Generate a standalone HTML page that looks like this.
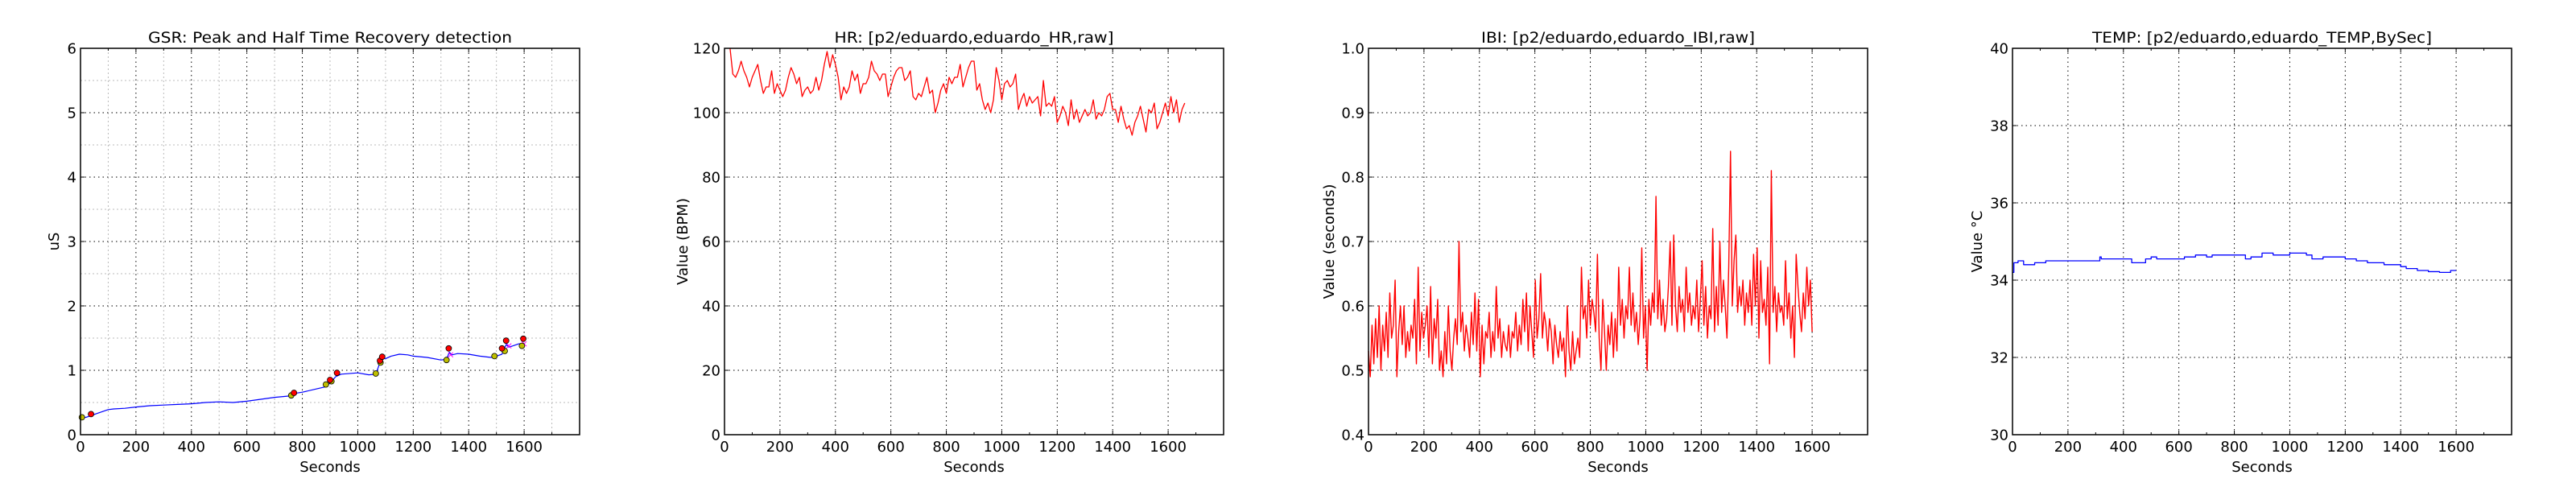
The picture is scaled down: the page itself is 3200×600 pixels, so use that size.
<!DOCTYPE html>
<html><head><meta charset="utf-8">
<style>
html,body{margin:0;padding:0;background:#fff;}
svg{display:block;font-family:"DejaVu Sans","Liberation Sans",sans-serif;}
</style></head>
<body>
<svg id="fig" width="3200" height="600" viewBox="0 0 3200 600" xmlns="http://www.w3.org/2000/svg"></svg>
<script>
// ---- GSR data ----
const gsrX = [0,20,40,60,80,100,120,160,200,250,300,350,400,450,500,550,600,650,700,750,770,800,850,880,900,920,940,1000,1040,1065,1080,1090,1100,1120,1150,1180,1200,1250,1300,1320,1330,1340,1360,1400,1440,1480,1500,1520,1535,1545,1560,1580,1600];
const gsrY = [0.26,0.27,0.30,0.33,0.36,0.39,0.40,0.41,0.43,0.45,0.46,0.47,0.48,0.50,0.51,0.50,0.52,0.55,0.58,0.60,0.64,0.66,0.71,0.74,0.80,0.90,0.94,0.96,0.93,0.94,1.12,1.20,1.18,1.22,1.25,1.24,1.22,1.20,1.16,1.17,1.28,1.24,1.26,1.25,1.22,1.20,1.22,1.25,1.40,1.36,1.38,1.41,1.42];
const peakX = [38,770,900,925,1080,1088,1328,1520,1535,1597];
const peakY = [0.32,0.65,0.85,0.96,1.15,1.21,1.34,1.34,1.46,1.49];
const onsetX = [5,760,885,905,1065,1082,1320,1493,1530,1592];
const onsetY = [0.27,0.61,0.78,0.83,0.95,1.12,1.16,1.22,1.30,1.38];
const hrecX = [1335,1545,1600];
const hrecY = [1.24,1.38,1.41];
// ---- HR data (every 10 s from 20 s) ----
const hrStart = 20, hrStep = 10;
const hrY = [120,112,111,113,116,113,111,108,111,113,115,110,106,108,108,113,106,109,107,105,107,111,114,112,109,111,105,107,108,106,107,111,107,110,115,119,114,118,115,111,104,108,106,108,113,110,112,106,109,109,111,116,113,112,110,112,112,105,108,111,113,114,114,110,111,113,105,104,106,105,108,111,106,107,100,103,107,109,106,111,109,111,111,115,108,111,114,116,116,107,109,104,101,103,100,104,114,110,104,109,110,108,109,112,101,104,106,102,105,103,104,105,99,110,102,103,102,105,97,99,102,100,96,104,98,101,97,99,101,99,100,104,98,100,99,101,105,106,101,101,97,102,98,95,96,93,97,99,102,98,94,101,100,103,95,97,100,103,99,105,100,104,97,101,103];
// ---- IBI data (every 6.4 s from 0 s) ----
const ibiStart = 0, ibiStep = 6.4;
const ibiY = [0.53,0.49,0.57,0.51,0.58,0.52,0.60,0.50,0.57,0.53,0.59,0.52,0.62,0.55,0.57,0.64,0.49,0.56,0.60,0.54,0.60,0.52,0.56,0.53,0.57,0.55,0.61,0.51,0.66,0.53,0.59,0.55,0.57,0.60,0.52,0.63,0.51,0.58,0.55,0.61,0.50,0.53,0.49,0.56,0.51,0.60,0.53,0.50,0.55,0.58,0.54,0.70,0.56,0.59,0.53,0.57,0.55,0.52,0.59,0.54,0.62,0.53,0.61,0.49,0.57,0.51,0.56,0.55,0.59,0.52,0.56,0.53,0.63,0.55,0.58,0.52,0.56,0.54,0.53,0.57,0.52,0.56,0.55,0.59,0.53,0.57,0.54,0.61,0.56,0.62,0.53,0.60,0.56,0.52,0.64,0.55,0.58,0.65,0.55,0.59,0.57,0.53,0.58,0.56,0.51,0.57,0.54,0.52,0.56,0.53,0.55,0.49,0.60,0.53,0.50,0.56,0.51,0.53,0.55,0.52,0.66,0.58,0.60,0.55,0.64,0.57,0.61,0.59,0.56,0.68,0.55,0.50,0.61,0.56,0.50,0.57,0.54,0.59,0.52,0.58,0.53,0.66,0.57,0.61,0.55,0.60,0.58,0.66,0.57,0.62,0.56,0.59,0.54,0.58,0.69,0.55,0.60,0.50,0.61,0.57,0.62,0.59,0.77,0.58,0.64,0.57,0.61,0.56,0.58,0.63,0.70,0.57,0.71,0.60,0.56,0.63,0.59,0.61,0.56,0.66,0.59,0.62,0.57,0.60,0.58,0.64,0.56,0.61,0.67,0.57,0.63,0.55,0.60,0.58,0.72,0.56,0.63,0.57,0.70,0.59,0.64,0.60,0.55,0.66,0.84,0.60,0.67,0.71,0.59,0.63,0.60,0.64,0.57,0.62,0.59,0.64,0.57,0.68,0.60,0.69,0.55,0.67,0.59,0.61,0.57,0.66,0.51,0.81,0.59,0.63,0.56,0.62,0.59,0.60,0.57,0.67,0.58,0.62,0.55,0.60,0.52,0.68,0.63,0.59,0.56,0.62,0.58,0.66,0.60,0.64,0.56];
// ---- TEMP data ----
const tempX = [0,5,20,40,80,120,200,300,315,320,400,430,480,500,520,600,620,660,700,720,800,840,860,900,940,1000,1060,1080,1120,1180,1200,1240,1280,1320,1340,1400,1420,1460,1500,1540,1580,1600];
const tempY = [34.2,34.45,34.5,34.4,34.45,34.5,34.5,34.5,34.6,34.55,34.55,34.45,34.55,34.6,34.55,34.55,34.6,34.65,34.6,34.65,34.65,34.55,34.6,34.7,34.65,34.7,34.65,34.55,34.6,34.6,34.55,34.5,34.45,34.45,34.4,34.35,34.3,34.25,34.22,34.2,34.25,34.25];
const xTicks = [0,200,400,600,800,1000,1200,1400,1600];
const gsrTicks = [0,1,2,3,4,5,6];
const hrTicks = [0,20,40,60,80,100,120];
const ibiTicks = [0.4,0.5,0.6,0.7,0.8,0.9,1.0];
const ibiTickLabels = ["0.4","0.5","0.6","0.7","0.8","0.9","1.0"];
const tempTicks = [30,32,34,36,38,40];

const NS = "http://www.w3.org/2000/svg";
const fig = document.getElementById('fig');
function el(tag, attrs, parent){ const e=document.createElementNS(NS,tag); for(const k in attrs) e.setAttribute(k,attrs[k]); (parent||fig).appendChild(e); return e; }

function makeAxes(ox, cfg){
  const L=ox+100, R=ox+720, T=60, B=540;
  const g = el('g',{});
  
  
  const sx = v => L + (v-0)/(1800)*(R-L);
  const sy = v => B - (v-cfg.ymin)/(cfg.ymax-cfg.ymin)*(B-T);
  if(cfg.minor){
    for(let v=100; v<1800; v+=200){ const l=el('line',{x1:sx(v),x2:sx(v),y1:T,y2:B,stroke:'#bbb','stroke-width':1,'stroke-dasharray':'2,3'},g);   }
    for(const v of cfg.minorY){ const l=el('line',{x1:L,x2:R,y1:sy(v),y2:sy(v),stroke:'#bbb','stroke-width':1,'stroke-dasharray':'2,3'},g);   }
  }
  xTicks.forEach(v=>{
    const l=el('line',{x1:sx(v),x2:sx(v),y1:T,y2:B,stroke:'#000','stroke-width':1,'stroke-dasharray':'1.5,4'},g);
     
    el('line',{x1:sx(v),x2:sx(v),y1:B,y2:B-5,stroke:'#000'},g);
    el('line',{x1:sx(v),x2:sx(v),y1:T,y2:T+5,stroke:'#000'},g);
    const t=el('text',{x:sx(v),y:561,'text-anchor':'middle','font-size':18},g); t.textContent=String(v);
     
  });
  for(let v=100; v<1800; v+=200){ el('line',{x1:sx(v),x2:sx(v),y1:B,y2:B-3,stroke:'#000'},g); el('line',{x1:sx(v),x2:sx(v),y1:T,y2:T+3,stroke:'#000'},g); }
  cfg.yticks.forEach((v,i)=>{
    const l=el('line',{x1:L,x2:R,y1:sy(v),y2:sy(v),stroke:'#000','stroke-width':1,'stroke-dasharray':'1.5,4'},g);
     
    el('line',{x1:L,x2:L+5,y1:sy(v),y2:sy(v),stroke:'#000'},g);
    el('line',{x1:R,x2:R-5,y1:sy(v),y2:sy(v),stroke:'#000'},g);
    const t=el('text',{x:L-5,y:sy(v)+6.5,'text-anchor':'end','font-size':18},g);
    t.textContent = cfg.ylabels ? cfg.ylabels[i] : String(v);
     
  });
  cfg.draw(g, sx, sy);
  const fr=el('rect',{x:L,y:T,width:R-L,height:B-T,fill:'none',stroke:'#000','stroke-width':1.5},g);
   
  const tt=el('text',{x:(L+R)/2,y:53,'text-anchor':'middle','font-size':19,textLength:cfg.tlen,lengthAdjust:'spacingAndGlyphs'},g); tt.textContent=cfg.title;
   
  const xl=el('text',{x:(L+R)/2,y:586,'text-anchor':'middle','font-size':18},g); xl.textContent='Seconds';
   
  const yl=el('text',{x:0,y:0,'text-anchor':'middle','font-size':18,transform:`translate(${ox+cfg.ylx},300) rotate(-90)`},g); yl.textContent=cfg.ylabel;
   
}
function poly(g, xs, ys, sx, sy, color, name, w, step){
  let pts=[];
  for(let i=0;i<xs.length;i++){
    if(step && i>0) pts.push(sx(xs[i])+','+sy(ys[i-1]));
    pts.push(sx(xs[i])+','+sy(ys[i]));
  }
  const p=el('polyline',{points:pts.join(' '),fill:'none',stroke:color,'stroke-width':w||1.3,'stroke-linejoin':'round'},g);
  
  
}

makeAxes(0,{name:'gsr-chart',title:'GSR: Peak and Half Time Recovery detection',tlen:452,ymin:0,ymax:6,yticks:gsrTicks,ylabel:'uS',ylx:73,minor:true,minorY:[0.5,1.5,2.5,3.5,4.5,5.5],
  draw:(g,sx,sy)=>{
    poly(g,gsrX,gsrY,sx,sy,'#0000ff','gsr-line',1.2);
    hrecX.forEach((x,i)=>{ const X=sx(x),Y=sy(hrecY[i]); const m=el('path',{d:`M${X-3},${Y-3}L${X+3},${Y+3}M${X-3},${Y+3}L${X+3},${Y-3}`,stroke:'#ff00ff','stroke-width':1},g);   });
    onsetX.forEach((x,i)=>{ const c=el('circle',{cx:sx(x),cy:sy(onsetY[i]),r:3.5,fill:'#bfbf00',stroke:'#000','stroke-width':0.8},g);   });
    peakX.forEach((x,i)=>{ const c=el('circle',{cx:sx(x),cy:sy(peakY[i]),r:3.5,fill:'#ff0000',stroke:'#000','stroke-width':0.8},g);   });
  }});
makeAxes(800,{name:'hr-chart',title:'HR: [p2/eduardo,eduardo_HR,raw]',tlen:347,ymin:0,ymax:120,yticks:hrTicks,ylabel:'Value (BPM)',ylx:54,
  draw:(g,sx,sy)=>{ const xs=hrY.map((_,i)=>hrStart+i*hrStep); poly(g,xs,hrY,sx,sy,'#ff0000','hr-line',1.3); }});
makeAxes(1600,{name:'ibi-chart',title:'IBI: [p2/eduardo,eduardo_IBI,raw]',tlen:340,ymin:0.4,ymax:1.0,yticks:ibiTicks,ylabels:ibiTickLabels,ylabel:'Value (seconds)',ylx:57,
  draw:(g,sx,sy)=>{ const xs=ibiY.map((_,i)=>ibiStart+i*ibiStep); poly(g,xs,ibiY,sx,sy,'#ff0000','ibi-line',1.4); }});
makeAxes(2400,{name:'temp-chart',title:'TEMP: [p2/eduardo,eduardo_TEMP,BySec]',tlen:422,ymin:30,ymax:40,yticks:tempTicks,ylabel:'Value °C',ylx:62,
  draw:(g,sx,sy)=>{ poly(g,tempX,tempY,sx,sy,'#0000ff','temp-line',1.3,true); }});
</script>
</body></html>
